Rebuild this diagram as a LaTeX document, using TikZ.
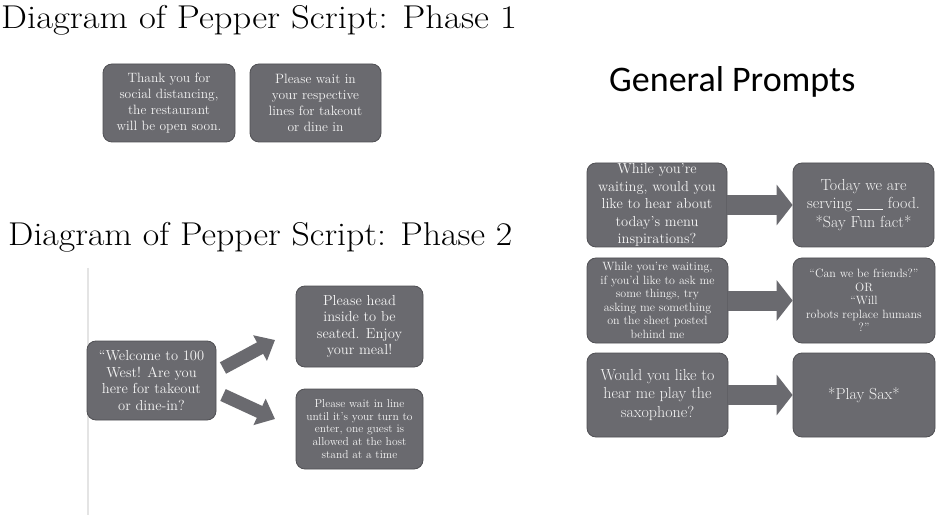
\documentclass[tikz,border=0pt]{standalone}
\usepackage{fontspec}
\usepackage{graphicx}
\newfontfamily\carlito{Carlito}
\usetikzlibrary{arrows.meta}
\definecolor{boxgray}{RGB}{106,106,111}
\definecolor{boxedge}{RGB}{80,80,84}
\definecolor{boxtext}{RGB}{245,245,245}
\definecolor{rulegray}{RGB}{228,228,228}
\tikzset{
  x=1pt, y=-1pt,
  pbox/.style={rectangle, rounded corners=9pt, draw=boxedge, line width=0.8pt,
    fill=boxgray, text=boxtext, align=center, inner sep=0pt},
  titletext/.style={anchor=base west, inner sep=0pt, font=\fontsize{33}{36}\selectfont},
  bigarrow/.style={draw=boxgray, line width=20pt,
    -{Triangle[length=16pt, width=40pt, fill=boxgray]}},
  midarrow/.style={draw=boxgray, line width=13pt,
    -{Triangle[length=17pt, width=28pt, fill=boxgray]}},
}
\begin{document}
\begin{tikzpicture}
\useasboundingbox (0,0) rectangle (941,518);
\fill[white] (0,0) rectangle (941,518);

% titles
\node[titletext] (t1) at (1,29) {\scalebox{1.11}[1]{Diagram of Pepper Script: Phase 1}};
\node[titletext] (t2) at (8,246) {\scalebox{1.085}[1]{Diagram of Pepper Script: Phase 2}};
\node[anchor=base west, inner sep=0pt, font=\carlito\fontsize{36}{40}\selectfont] (t3) at (609,92) {General Prompts};

% phase 1
\node[pbox, minimum width=132pt, minimum height=78pt, font=\fontsize{13.5}{16}\selectfont] (p1a) at (169,103)
  {Thank you for\\social distancing,\\the restaurant\\will be open soon.};
\node[pbox, minimum width=131pt, minimum height=78pt, font=\fontsize{13.5}{16}\selectfont] (p1b) at (315.5,103)
  {Please wait in\\your respective\\lines for takeout\\or dine in};

% phase 2
\coordinate (vt) at (88,268);
\coordinate (vb) at (88,515);
\draw[rulegray, line width=1.5pt] (vt) -- (vb);
\node[pbox, minimum width=129pt, minimum height=79pt, font=\fontsize{14.5}{16.5}\selectfont] (p2a) at (151.5,380.5)
  {``Welcome to 100\\West! Are you\\here for takeout\\or dine-in?};
\node[pbox, minimum width=127pt, minimum height=81pt, font=\fontsize{14.5}{16.5}\selectfont] (p2b) at (359.5,326.5)
  {Please head\\inside to be\\seated. Enjoy\\your meal!};
\node[pbox, minimum width=127pt, minimum height=80pt, font=\fontsize{11.5}{12.8}\selectfont] (p2c) at (359.5,429)
  {Please wait in line\\until it's your turn to\\enter, one guest is\\allowed at the host\\stand at a time};
\coordinate (a1s) at (223,368);
\coordinate (a1e) at (275,340);
\coordinate (a2s) at (223,395);
\coordinate (a2e) at (275,419);
\draw[midarrow] (a1s) -- (a1e);
\draw[midarrow] (a2s) -- (a2e);

% general prompts
\node[pbox, minimum width=140pt, minimum height=84pt, font=\fontsize{14.5}{17.5}\selectfont] (g1a) at (657,205)
  {While you're\\waiting, would you\\like to hear about\\today's menu\\inspirations?};
\node[pbox, minimum width=141pt, minimum height=84pt, font=\fontsize{16}{18.3}\selectfont] (g1b) at (863.5,205)
  {Today we are\\serving \rule[-1pt]{26pt}{0.8pt} food.\\*Say Fun fact*};
\node[pbox, minimum width=141pt, minimum height=85pt, font=\fontsize{12}{13.5}\selectfont] (g2a) at (657.5,300.5)
  {While you're waiting,\\if you'd like to ask me\\some things, try\\asking me something\\on the sheet posted\\behind me};
\node[pbox, minimum width=142pt, minimum height=85pt, font=\fontsize{12}{13.5}\selectfont] (g2b) at (864,300.5)
  {``Can we be friends?''\\OR\\``Will\\robots replace humans\\?''};
\node[pbox, minimum width=141pt, minimum height=84pt, font=\fontsize{16}{18.3}\selectfont] (g3a) at (657.5,395)
  {Would you like to\\hear me play the\\saxophone?};
\node[pbox, minimum width=142pt, minimum height=84pt, font=\fontsize{16}{18.3}\selectfont] (g3b) at (864,395)
  {*Play Sax*};
\draw[bigarrow] (g1a.east) -- (g1b.west);
\draw[bigarrow] (g2a.east) -- (g2b.west);
\draw[bigarrow] (g3a.east) -- (g3b.west);
\end{tikzpicture}
\end{document}
